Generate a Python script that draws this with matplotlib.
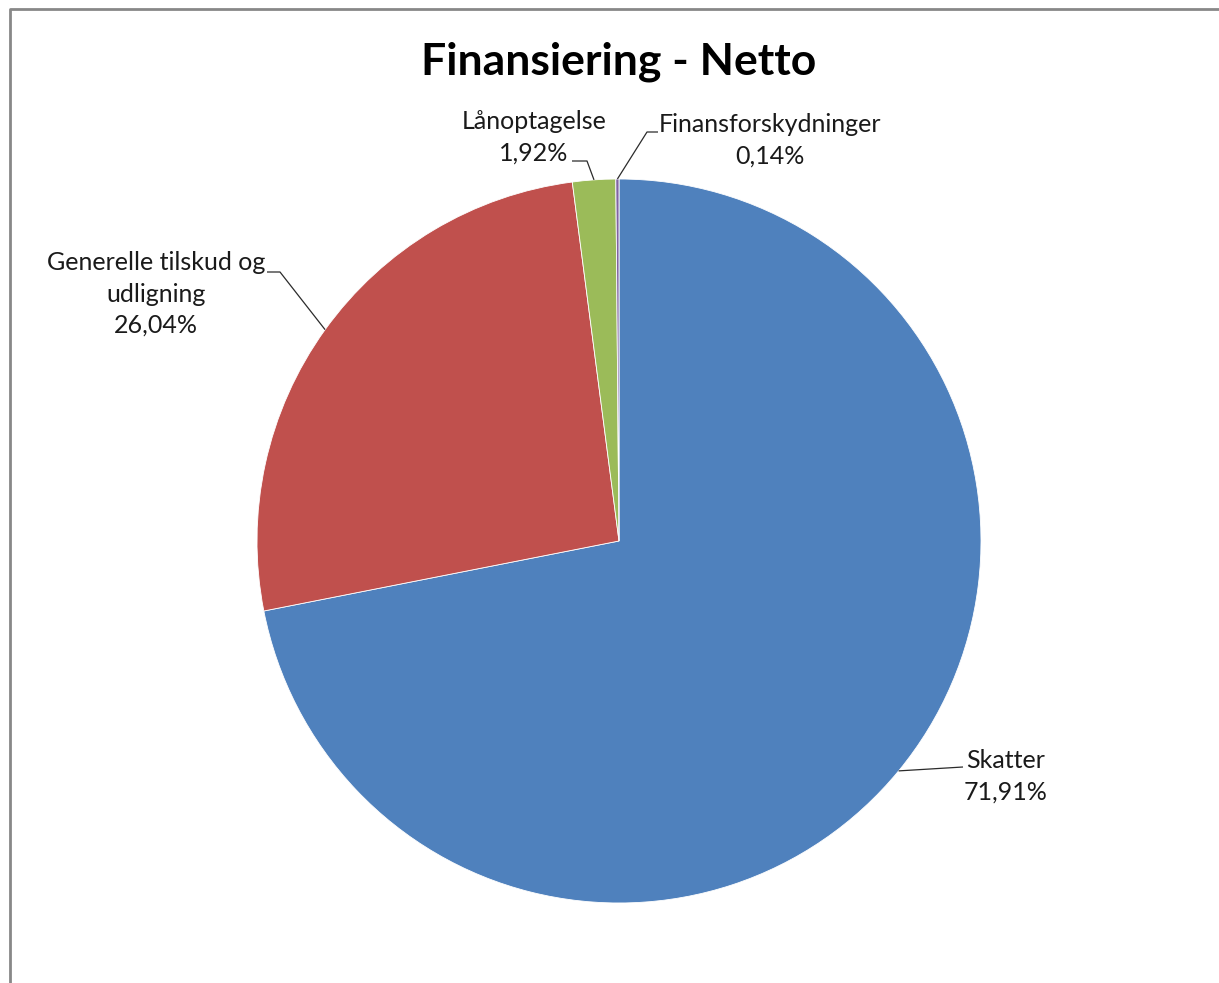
import numpy as np
import matplotlib
matplotlib.use("Agg")
import matplotlib.pyplot as plt

# data
kategorier = ["Skatter", "Generelle tilskud og\nudligning", "Lånoptagelse", "Finansforskydninger"]
andele = [71.91, 26.04, 1.92, 0.14]
farver = ["#4F81BD", "#C0504D", "#9BBB59", "#8064A2"]
procent_tekst = ["71,91%", "26,04%", "1,92%", "0,14%"]

W, H = 1219, 983
plt.rcParams['font.family'] = ['Lato', 'DejaVu Sans']

fig = plt.figure(figsize=(W / 100, H / 100), dpi=100)
ax = fig.add_axes([0, 0, 1, 1])

# pie, centre and radius in pixels (y measured from bottom)
cx, cy, r = 619, H - 541, 362
wedges, _ = ax.pie(andele, colors=farver, startangle=90, counterclock=False,
                   center=(cx, cy), radius=r, frame=True,
                   wedgeprops=dict(edgecolor="white", linewidth=0.6))
ax.set_xlim(0, W)
ax.set_ylim(0, H)
ax.set_aspect("equal")
ax.axis("off")

# label positions (image coords: x, y of block centre) and leader elbows
label_pos = [(1006, 776), (156, 294), (534, 137), (770, 140)]
leader = [
    [(963, 767)],
    [(280, 272), (267, 272)],
    [(587, 161), (572, 161)],
    [(647, 132), (658, 132)],
]

for w, navn, pct, (lx, ly), pts in zip(wedges, kategorier, procent_tekst, label_pos, leader):
    mid = np.deg2rad((w.theta1 + w.theta2) / 2)
    px, py = cx + r * np.cos(mid), cy + r * np.sin(mid)
    xs = [px] + [p[0] for p in pts]
    ys = [py] + [H - p[1] for p in pts]
    ax.plot(xs, ys, color="#2b2b2b", lw=0.9, solid_capstyle="butt")
    ax.text(lx, H - ly, navn + "\n" + pct, ha="center", va="center",
            fontsize=18, color="#1a1a1a", linespacing=1.45)

ax.text(619, H - 62, "Finansiering - Netto", ha="center", va="center",
        fontsize=32, fontweight="bold", color="black")

# chart frame (cut off at right and bottom)
ax.plot([10, 10, W + 5], [-5, H - 9, H - 9], color="#888888", lw=2, clip_on=False)

fig.savefig("out.png", dpi=100, facecolor="white")
